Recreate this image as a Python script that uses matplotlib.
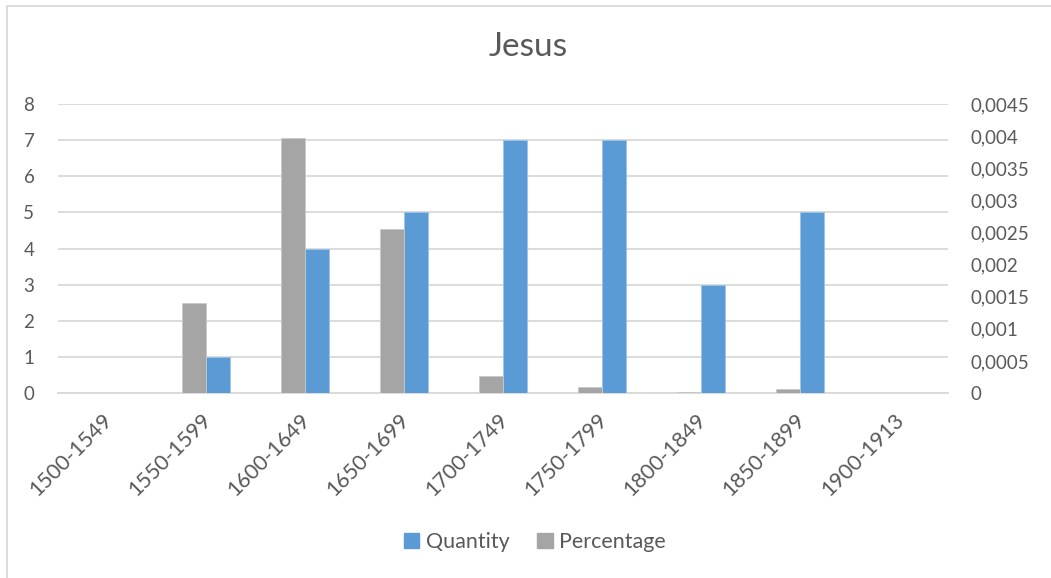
import matplotlib.pyplot as plt
import matplotlib.patches as patches
import matplotlib.transforms as mtransforms
from matplotlib.ticker import FuncFormatter, MultipleLocator
import numpy as np

# data
periods = ["1500-1549", "1550-1599", "1600-1649", "1650-1699", "1700-1749",
           "1750-1799", "1800-1849", "1850-1899", "1900-1913"]
quantity = [0, 1, 4, 5, 7, 7, 3, 5, 0]
percentage = [0, 0.0014, 0.00397, 0.00255, 0.00027, 0.0001, 0.00002, 0.00006, 0]

blue = "#5B9BD5"
grey = "#A5A5A5"
txt = "#595959"
plt.rcParams['font.family'] = ['Lato', 'DejaVu Sans']

fig = plt.figure(figsize=(10.51, 5.78), dpi=100)
ax = fig.add_axes([58 / 1051, 1 - 393 / 578, 890 / 1051, 289 / 578])
ax2 = ax.twinx()

x = np.arange(len(periods))
w = 0.243

ax.bar(x + w / 2, quantity, w, color=blue, edgecolor="#9DC3E6", linewidth=0.6, zorder=3)
ax2.bar(x - w / 2, percentage, w, color=grey, edgecolor="#C9C9C9", linewidth=0.6, zorder=3)

ax.set_xlim(-0.5, len(periods) - 0.5)
ax.set_ylim(0, 8)
ax2.set_ylim(0, 0.0045)
ax.yaxis.set_major_locator(MultipleLocator(1))
ax2.yaxis.set_major_locator(MultipleLocator(0.0005))


def comma_fmt(v, pos):
    if abs(v) < 1e-12:
        return "0"
    s = f"{v:.4f}".rstrip('0').rstrip('.')
    return s.replace('.', ',')


ax2.yaxis.set_major_formatter(FuncFormatter(comma_fmt))

ax.grid(axis='y', color="#D9D9D9", linewidth=1.3, zorder=0)
ax.set_axisbelow(True)
for a in (ax, ax2):
    for s in a.spines.values():
        s.set_visible(False)
    a.tick_params(length=0, labelsize=13.5, labelcolor=txt)
ax.spines['bottom'].set_visible(True)
ax.spines['bottom'].set_color("#D9D9D9")
ax.spines['bottom'].set_linewidth(1.3)
ax.tick_params(axis='y', pad=17)
ax2.tick_params(axis='y', pad=16)

ax.set_xticks(x)
ax.set_xticklabels(periods, rotation=45, ha='right', va='top', rotation_mode='anchor',
                   fontsize=15.5)
ax.tick_params(axis='x', pad=12)
shift = mtransforms.ScaledTranslation(-5 / 100, 0, fig.dpi_scale_trans)
for lbl in ax.get_xticklabels():
    lbl.set_transform(lbl.get_transform() + shift)

fig.text(0.503, 1 - 47 / 578, "Jesus", ha='center', va='center', fontsize=24, color=txt)

# legend
h1 = patches.Patch(color=blue, label="Quantity")
h2 = patches.Patch(color=grey, label="Percentage")
fig.legend(handles=[h1, h2], loc='center', bbox_to_anchor=(0.509, 1 - 542 / 578), ncol=2,
           frameon=False, fontsize=15.5, labelcolor=txt, handlelength=0.7, handleheight=0.7,
           handletextpad=0.3, columnspacing=1.3)

# chart border
fig.patches.append(patches.Rectangle((7 / 1051, -0.02), 1.1, 1 - 6 / 578 + 0.02,
                                     transform=fig.transFigure, fill=False,
                                     edgecolor="#D9D9D9", linewidth=1.3))

fig.savefig("out.png", dpi=100)
